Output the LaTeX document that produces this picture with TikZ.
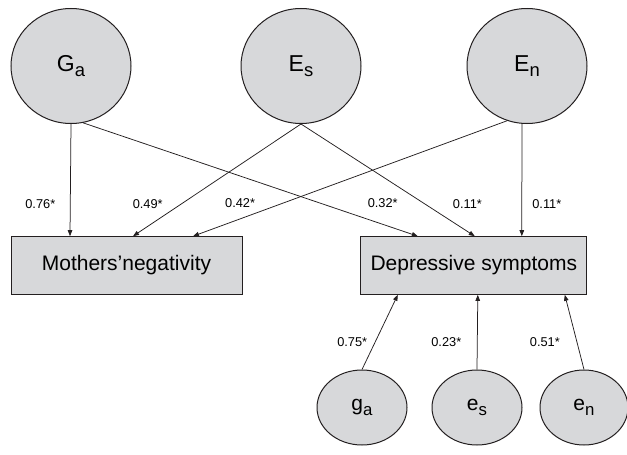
\documentclass[tikz,border=0pt]{standalone}
\usepackage{fontspec}
\usepackage{graphicx}
\setmainfont{Liberation Sans}
\usetikzlibrary{shapes.geometric,arrows.meta}
\definecolor{latentfill}{RGB}{215,216,218}
\definecolor{inkline}{RGB}{35,31,32}
\newcommand{\idx}[1]{\raisebox{-0.24em}{\scalebox{0.8}{#1}}}
\begin{document}
\begin{tikzpicture}
  [x=1pt,y=-1pt,
   latent/.style={ellipse,draw=inkline,line width=1pt,fill=latentfill,inner sep=0pt},
   big/.style={latent,minimum width=120pt,minimum height=115pt,font=\fontsize{23}{26}\selectfont},
   small/.style={latent,minimum width=90pt,minimum height=75pt,font=\fontsize{21}{24}\selectfont},
   observed/.style={rectangle,draw=inkline,line width=1pt,fill=latentfill,minimum height=57.6pt,font=\fontsize{21}{24}\selectfont},
   arr/.style={-{Triangle[length=6pt,width=4.5pt]},draw=inkline,line width=0.75pt},
   coef/.style={font=\fontsize{12.8}{14}\selectfont,inner sep=0pt}]
  \useasboundingbox (0,0) rectangle (627,455);

  \node[big] (Ga) at (71,66)  {G\idx{a}};
  \node[big] (Es) at (301,66) {E\idx{s}};
  \node[big] (En) at (527,66) {E\idx{n}};

  \node[observed,minimum width=231pt]   (Mothers) at (126.5,265.5) {Mothers’negativity};
  \node[observed,minimum width=225.7pt] (Depr)    at (473.8,265.5) {Depressive symptoms};

  \node[small] (ga) at (362,407.5) {g\idx{a}};
  \node[small] (es) at (477,407.5) {e\idx{s}};
  \node[small,minimum width=88pt] (en) at (584,407.5) {e\idx{n}};

  % paths into the two boxes
  \foreach \src/\dst/\dx/\w/\lx in {Ga.-90/Mothers/-56.5/0.76/-30, Es.south/Mothers/6.5/0.49/-34,
      En.-110/Mothers/66.5/0.42/-44, Ga.-78/Depr/-56/0.32/62, Es.south/Depr/1/0.11/43, En.-95/Depr/48/0.11/25}
    \draw[arr] (\src) -- ([xshift=\dx pt]\dst.north)
               node[coef,pos=0.71,xshift=\lx pt] {\w*};

  \foreach \src/\dx/\w/\lx in {ga/-76/0.75/-23, es/4/0.23/-31, en/91/0.51/-32}
    \draw[arr] (\src.north) -- ([xshift=\dx pt]Depr.south)
               node[coef,pos=0.37,xshift=\lx pt] {\w*};
\end{tikzpicture}
\end{document}
